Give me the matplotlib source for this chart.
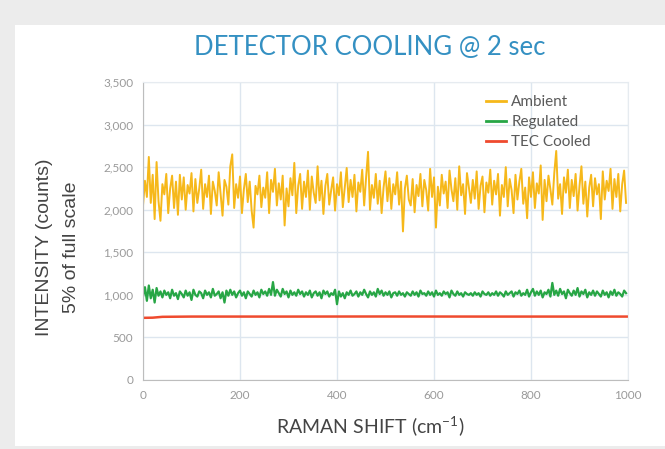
import matplotlib.pyplot as plt
import matplotlib.patches as mpatches
import matplotlib.ticker as mticker
import numpy as np

plt.rcParams['font.family'] = ['Lato', 'DejaVu Sans']

# Raman shift positions (one reading every 4 cm-1)
ambient = [
    2050, 2340, 2150, 2620, 2080, 2410, 1890, 2560, 2100, 1870,
    2300, 2180, 2420, 1960, 2250, 2400, 2020, 2330, 1940, 2410,
    2120, 2380, 2000, 2290, 2190, 2430, 1980, 2360, 2080, 2250,
    2470, 2010, 2300, 2150, 2400, 1950, 2330, 2220, 2050, 2440,
    2180, 1930, 2350, 2270, 2060, 2510, 2650, 2020, 2300, 2140,
    2390, 1960, 2240, 2420, 2090, 2330, 1990, 1790, 2280, 2180,
    2400, 2030, 2260, 2140, 2440, 1960, 2350, 2210, 2480, 2050,
    2310, 2120, 2400, 1815, 2250, 2040, 2370, 2170, 2550, 1960,
    2280, 2420, 2010, 2330, 2150, 2460, 2000, 2390, 2200, 2080,
    2510, 2110, 2340, 1950, 2280, 2420, 2060, 2230, 2380, 1990,
    2300, 2170, 2440, 2030, 2260, 2490, 2090, 2350, 2150, 2410,
    1980, 2320, 2210, 2470, 2050, 2380, 2680, 2000, 2290, 2140,
    2420, 2070, 2340, 1960, 2260, 2450, 2100, 2370, 2010, 2300,
    2180, 2440, 2060, 2330, 1745, 2250, 2400, 2120, 2050, 2360,
    1970, 2290, 2160, 2420, 2040, 2350, 2230, 1990, 2480, 2150,
    2380, 1790, 2270, 2050, 2410, 2190, 2330, 2020, 2460, 2240,
    2100, 2370, 2000, 2510, 2170, 2300, 1950, 2430, 2260, 2080,
    2350, 2130, 2450, 2010, 2280, 2390, 1970, 2320, 2200, 2470,
    2060, 2340, 2180, 2420, 1930, 2290, 2150, 2500, 2040, 2360,
    2230, 1960, 2410, 2120, 2330, 2480, 2070, 2260, 1900, 2380,
    2150, 2440, 2020, 2310, 2190, 2520, 1880, 2350, 2100, 2400,
    2240, 2060, 2430, 2690, 2130, 2300, 1950, 2380, 2200, 2470,
    2020, 2350, 2160, 2420, 1990, 2280, 2510, 2070, 2330, 1920,
    2260, 2410, 2040, 2370, 2180, 2300, 1890, 2450, 2120, 2340,
    2220, 2480, 2010, 2360, 2150, 2420, 1980, 2300, 2460, 2080,
]

regulated = [
    980, 1090, 930, 1110, 960, 1060, 910, 1080, 990, 1040,
    970, 1050, 1000, 1030, 960, 1060, 990, 1020, 950, 1040,
    1010, 970, 1050, 990, 1030, 940, 1060, 1000, 980, 1040,
    1020, 960, 1050, 1000, 1030, 970, 1070, 990, 1010, 1040,
    960, 1030, 910, 1050, 990, 1060, 1000, 1040, 970, 1020,
    1050, 990, 1030, 960, 1040, 1010, 980, 1050, 1000, 1030,
    970, 1060, 1010, 1040, 990, 1070, 1000, 1150, 990, 1060,
    1020, 980, 1070, 1010, 1040, 970, 1050, 1000, 1030, 990,
    1060, 1010, 1040, 980, 1030, 1000, 1050, 970, 1020, 1040,
    990, 1030, 960, 1050, 1010, 1040, 980, 1020, 1000, 1060,
    890, 1040, 980, 1020, 960, 1030, 1000, 1050, 990, 1010,
    1040, 980, 1030, 1000, 1060, 1010, 970, 1040, 1000, 1030,
    980, 1070, 1010, 1050, 990, 1030, 1000, 1040, 970, 1020,
    1030, 990, 1040, 1000, 1020, 980, 1030, 1010, 990, 1040,
    1000, 1030, 980, 1050, 1010, 1020, 990, 1040, 1000, 1030,
    980, 1050, 1000, 1020, 990, 1040, 1010, 1030, 970, 1050,
    1010, 990, 1040, 1000, 1020, 980, 1030, 1010, 1000, 1020,
    990, 1030, 1000, 1020, 980, 1040, 1010, 1000, 1030, 990,
    1020, 1000, 1040, 990, 1030, 1010, 980, 1040, 1000, 1020,
    1040, 980, 1030, 1010, 1050, 990, 1020, 1000, 1060, 980,
    1030, 1070, 990, 1040, 1000, 1050, 970, 1030, 1010, 1060,
    980, 1140, 1000, 1050, 990, 1070, 1010, 1040, 960, 1060,
    1020, 990, 1050, 1000, 1080, 980, 1040, 1010, 1060, 970,
    1030, 1000, 1050, 990, 1040, 1010, 980, 1050, 1000, 1030,
    970, 1040, 1000, 1060, 990, 1030, 1010, 980, 1050, 1020,
]

shift = np.arange(len(ambient)) * 4

tec_shift = [0, 20, 40, 100, 300, 500, 700, 900, 1000]
tec = [730, 732, 742, 745, 745, 746, 745, 745, 745]

labels = ['Ambient', 'Regulated', 'TEC Cooled']
colors = ['#f6b81a', '#27a645', '#ef4a2e']

fig = plt.figure(figsize=(6.65, 4.49), dpi=100)
fig.patch.set_facecolor('#ececec')
# white card behind everything
fig.patches.append(mpatches.Rectangle((15 / 665, 3 / 449), 650 / 665, 421 / 449,
                                      transform=fig.transFigure, facecolor='white',
                                      edgecolor='none', zorder=-5))

ax = fig.add_axes([143 / 665, 1 - 380 / 449, 485 / 665, 298 / 449])
ax.set_facecolor('white')

ax.plot(shift, ambient, c=colors[0], lw=1.4, label=labels[0])
ax.plot(shift, regulated, c=colors[1], lw=1.6, label=labels[1])
ax.plot(tec_shift, tec, c=colors[2], lw=1.8, label=labels[2])

ax.set_xlim(0, 1000)
ax.set_ylim(0, 3500)
ax.set_xticks([0, 200, 400, 600, 800, 1000])
ax.set_yticks(range(0, 3501, 500))
ax.yaxis.set_major_formatter(mticker.StrMethodFormatter('{x:,.0f}'))
ax.tick_params(length=0, labelsize=8.5, labelcolor='#9a9a9a', pad=7)
ax.grid(True, color='#dde6ef', lw=1)
ax.set_axisbelow(True)
for s in ['top', 'right']:
    ax.spines[s].set_color('#e6ebf0')
for s in ['left', 'bottom']:
    ax.spines[s].set_color('#bdbdbd')

leg = ax.legend(loc='upper left', bbox_to_anchor=(486 / 665, 1 - 95 / 449),
                bbox_transform=fig.transFigure, frameon=False, fontsize=11,
                handlelength=1.3, handletextpad=0.35, labelspacing=0.4,
                borderpad=0, borderaxespad=0)
for t in leg.get_texts():
    t.set_color('#5a5a5a')
for h in leg.get_lines():
    h.set_linewidth(2)

fig.text(370 / 665, 1 - 48 / 449, 'DETECTOR COOLING @ 2 sec', ha='center', va='center',
         fontsize=18.5, color='#3490c2')
fig.text(45 / 665, 1 - 247 / 449, 'INTENSITY (counts)', rotation=90, ha='center',
         va='center', fontsize=14, color='#444444', family='Liberation Sans')
fig.text(71 / 665, 1 - 247 / 449, '5% of full scale', rotation=90, ha='center',
         va='center', fontsize=14, color='#444444', family='Liberation Sans')
fig.text(370 / 665, 1 - 427 / 449, r'RAMAN SHIFT (cm$^{\mathregular{-1}}$)', ha='center',
         va='center', fontsize=14, color='#444444')

fig.savefig('out.png', dpi=100, facecolor=fig.get_facecolor())
